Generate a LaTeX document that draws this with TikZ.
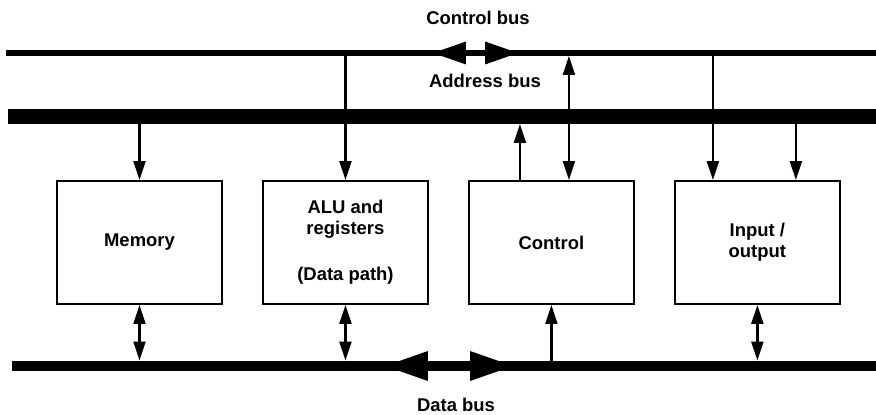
\documentclass[tikz,border=0pt]{standalone}
\usepackage{fontspec}
\setmainfont{Liberation Sans}
\usetikzlibrary{arrows.meta, positioning}

\begin{document}
\begin{tikzpicture}[x=0.02cm, y=-0.02cm,
        unit/.style={draw, line width=0.04cm, minimum width=3.3cm, minimum height=2.46cm,
            inner sep=0pt, align=center, font=\fontsize{10.5}{12}\selectfont\bfseries},
        buslabel/.style={font=\fontsize{10.5}{12}\selectfont\bfseries},
        link/.style={line width=0.045cm, -{Triangle[length=0.38cm, width=0.24cm]}},
        duplex/.style={line width=0.045cm,
            {Triangle[length=0.38cm, width=0.24cm]}-{Triangle[length=0.38cm, width=0.24cm]}},
        node distance=0.78cm]
    \useasboundingbox (0,0) rectangle (876,415);

    % bus lines (centre and edge facing the units)
    \coordinate (cb0) at (6,53);
    \coordinate (cb1) at (876,53);
    \coordinate (cbe) at (0,56);
    \coordinate (cbm) at (475,53);
    \coordinate (cbl) at (433,53);
    \coordinate (cbr) at (518,53);
    \coordinate (ab0) at (8,116.5);
    \coordinate (ab1) at (876,116.5);
    \coordinate (abe) at (0,124);
    \coordinate (db0) at (12,366);
    \coordinate (db1) at (876,366);
    \coordinate (dbe) at (0,360.5);
    \coordinate (dbm) at (449,366);
    \coordinate (dbl) at (385,366);
    \coordinate (dbr) at (513,366);

    \draw[line width=0.12cm] (cb0) -- (cb1);
    \draw[line width=0.12cm, -{Triangle[length=0.66cm, width=0.46cm, line width=0pt]}] (cbm) -- (cbl);
    \draw[line width=0.12cm, -{Triangle[length=0.66cm, width=0.46cm, line width=0pt]}] (cbm) -- (cbr);
    \draw[line width=0.3cm] (ab0) -- (ab1);
    \draw[line width=0.22cm] (db0) -- (db1);
    \draw[line width=0.22cm, -{Triangle[length=0.86cm, width=0.6cm, line width=0pt]}] (dbm) -- (dbl);
    \draw[line width=0.22cm, -{Triangle[length=0.86cm, width=0.6cm, line width=0pt]}] (dbm) -- (dbr);

    \node[buslabel] (cblabel) at (478,18) {Control bus};
    \node[buslabel] (ablabel) at (485,81) {Address bus};
    \node[buslabel] (dblabel) at (456,405) {Data bus};

    % units
    \node[unit] (mem) at (139.5,242.5) {Memory};
    \node[unit, right=of mem] (alu) {ALU and\\registers\\[14pt](Data path)};
    \node[unit, right=of alu] (ctl) {Control};
    \node[unit, right=of ctl] (io) {Input /\\output};

    \coordinate (ctla) at ([xshift=-0.63cm]ctl.north);
    \coordinate (ctlb) at ([xshift=0.35cm]ctl.north);
    \coordinate (ioa) at ([xshift=-0.89cm]io.north);
    \coordinate (iob) at ([xshift=0.77cm]io.north);

    % connectors to the upper buses
    \draw[link] (mem.north |- ab0) -- (mem.north);
    \draw[link] (alu.north |- cb0) -- (alu.north);
    \draw[link] (ctla) -- (ctla |- abe);
    \draw[duplex] (ctlb |- cbe) -- (ctlb);
    \draw[link] (ioa |- cb0) -- (ioa);
    \draw[link] (iob |- ab0) -- (iob);

    % connectors to the data bus
    \draw[duplex] (mem.south) -- (mem.south |- dbe);
    \draw[duplex] (alu.south) -- (alu.south |- dbe);
    \draw[link] (ctl.south |- db0) -- (ctl.south);
    \draw[duplex] (io.south) -- (io.south |- dbe);
\end{tikzpicture}
\end{document}
